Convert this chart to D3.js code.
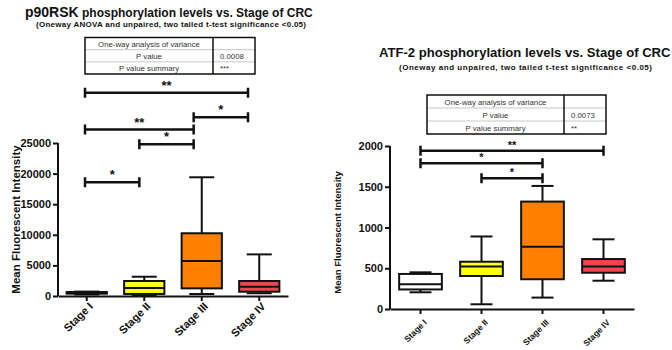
<!DOCTYPE html>
<html>
<head>
<meta charset="utf-8">
<script src="https://cdn.jsdelivr.net/npm/d3@7"></script>
<style>
body { margin: 0; background: #fff; }
svg { display: block; font-family: "Liberation Sans", Arial, sans-serif; }
</style>
</head>
<body>
<svg width="672" height="350"></svg>
<script>
// categories shared by both panels
var stages = ["Stage I", "Stage II", "Stage III", "Stage IV"];
var boxColors = ["#ffffff", "#ffff1a", "#ff8000", "#ee4650"];

// p90RSK box values (min, q1, median, q3, max)
var p90Min = [250, 60, 330, 450];
var p90Q1 = [380, 330, 1250, 700];
var p90Med = [520, 1300, 5700, 1530];
var p90Q3 = [650, 2450, 10250, 2450];
var p90Max = [720, 3150, 19400, 6800];
var p90Ticks = [0, 5000, 10000, 15000, 20000, 25000];
// significance brackets: from, to, height (data units), label
var p90BrFrom = [0, 1, 0, 2, 0];
var p90BrTo = [1, 2, 2, 3, 3];
var p90BrY = [18600, 24800, 27200, 29200, 33200];
var p90BrLab = ["*", "*", "**", "*", "**"];
var p90Table = ["", "0.0008", "***"];

// ATF-2 box values
var atfMin = [205, 58, 140, 347];
var atfQ1 = [240, 405, 365, 445];
var atfMed = [305, 520, 765, 520];
var atfQ3 = [430, 580, 1318, 613];
var atfMax = [450, 890, 1510, 855];
var atfTicks = [0, 500, 1000, 1500, 2000];
var atfBrFrom = [1, 0, 0];
var atfBrTo = [2, 2, 3];
var atfBrY = [1604, 1788, 1942];
var atfBrLab = ["*", "*", "**"];
var atfTable = ["", "0.0073", "**"];

var tableRows = ["One-way analysis of variance", "P value", "P value summary"];

var svg = d3.select("svg");

function drawPanel(o) {
  var g = svg.append("g");
  var x = d3.scaleBand().domain(stages).range([o.x0, o.x1]).padding(0);
  var y = d3.scaleLinear().domain([0, o.ymax]).range([o.yb, o.yt]);
  var xb = o.brScale || function(s) { return x(s) + x.bandwidth() / 2; };
  var bw = x.bandwidth() * 0.7;

  var rows = stages.map(function(s, i) {
    return {s: s, min: o.mn[i], q1: o.q1[i], med: o.md[i], q3: o.q3[i], max: o.mx[i], c: boxColors[i]};
  });
  var bx = g.selectAll(".bx").data(rows).enter().append("g")
    .attr("transform", function(d) { return "translate(" + (x(d.s) + x.bandwidth() / 2) + ",0)"; });

  // whiskers
  bx.append("line").attr("x1", 0).attr("x2", 0)
    .attr("y1", d => y(d.max)).attr("y2", d => y(d.q3))
    .attr("stroke", "#111").attr("stroke-width", 2);
  bx.append("line").attr("x1", 0).attr("x2", 0)
    .attr("y1", d => y(d.q1)).attr("y2", d => y(d.min))
    .attr("stroke", "#111").attr("stroke-width", 2);
  ["max", "min"].forEach(function(k) {
    bx.append("line").attr("x1", -o.cap / 2).attr("x2", o.cap / 2)
      .attr("y1", d => y(d[k])).attr("y2", d => y(d[k]))
      .attr("stroke", "#111").attr("stroke-width", 2);
  });
  bx.append("rect")
    .attr("x", -bw / 2).attr("width", bw)
    .attr("y", d => y(d.q3)).attr("height", d => y(d.q1) - y(d.q3))
    .attr("fill", d => d.c).attr("stroke", "#111").attr("stroke-width", 2);
  bx.append("line").attr("x1", -bw / 2).attr("x2", bw / 2)
    .attr("y1", d => y(d.med)).attr("y2", d => y(d.med))
    .attr("stroke", "#111").attr("stroke-width", 2);

  // axes
  var ya = g.append("g").attr("transform", "translate(" + o.x0 + ",0)")
    .call(d3.axisLeft(y).tickValues(o.ticks).tickSize(5).tickPadding(2).tickFormat(d3.format("d")));
  ya.select(".domain").attr("d", "M0," + o.yt + "V" + o.yb);
  var xa = g.append("g").attr("transform", "translate(0," + o.yb + ")")
    .call(d3.axisBottom(x).tickSize(5).tickSizeOuter(0));
  [ya, xa].forEach(function(a) {
    a.selectAll("path,line").attr("stroke", "#111").attr("stroke-width", 2);
  });
  ya.selectAll("text").attr("font-size", 11).attr("font-weight", "bold").attr("fill", "#111")
    .attr("font-family", "Liberation Sans, Arial, sans-serif");
  xa.selectAll("text").attr("font-size", o.xfs).attr("font-weight", "bold").attr("fill", "#111")
    .attr("font-family", "Liberation Sans, Arial, sans-serif")
    .attr("text-anchor", "end").attr("dy", 0).attr("y", 0)
    .attr("transform", "translate(" + o.xlx + "," + o.xly + ") rotate(-45)");

  g.append("text")
    .attr("transform", "translate(" + o.ylx + "," + ((o.yt + o.yb) / 2 + o.ylDy) + ") rotate(-90)")
    .attr("text-anchor", "middle").attr("font-size", o.ylfs).attr("font-weight", "bold")
    .attr("fill", "#111").text("Mean Fluorescent Intensity");

  // significance brackets
  var br = o.bf.map(function(f, i) { return {a: stages[f], b: stages[o.bt[i]], v: o.by[i], t: o.bl[i]}; });
  var bg = g.selectAll(".br").data(br).enter().append("g");
  bg.append("path")
    .attr("d", function(d) {
      var a = xb(d.a), b = xb(d.b), yy = y(d.v);
      return "M" + a + "," + (yy - 5) + "V" + (yy + 5) + "M" + a + "," + yy + "H" + b +
        "M" + b + "," + (yy - 5) + "V" + (yy + 5);
    })
    .attr("fill", "none").attr("stroke", "#111").attr("stroke-width", 2.5);
  bg.append("text")
    .attr("x", d => (xb(d.a) + xb(d.b)) / 2).attr("y", d => y(d.v) - o.starGap)
    .attr("text-anchor", "middle").attr("font-size", o.starFs).attr("font-weight", "bold")
    .attr("fill", "#111").text(d => d.t);

  // anova table
  var t = o.tab;
  var tg = g.append("g");
  var rh = (t.y1 - t.y0) / 3;
  tableRows.forEach(function(r, i) {
    if (i > 0) tg.append("line").attr("x1", t.x0).attr("x2", t.x1)
      .attr("y1", t.y0 + rh * i).attr("y2", t.y0 + rh * i)
      .attr("stroke", "#c8c8c8").attr("stroke-width", 1);
    tg.append("text").attr("x", (t.x0 + t.xd) / 2).attr("y", t.y0 + rh * i + rh / 2 + 3)
      .attr("text-anchor", "middle").attr("font-size", 7.8).attr("fill", "#333").text(r);
    tg.append("text").attr("x", t.xd + 7).attr("y", t.y0 + rh * i + rh / 2 + 3)
      .attr("font-size", 7.8).attr("fill", "#333").text(o.tv[i]);
  });
  tg.append("rect").attr("x", t.x0).attr("y", t.y0).attr("width", t.x1 - t.x0).attr("height", t.y1 - t.y0)
    .attr("fill", "none").attr("stroke", "#111").attr("stroke-width", 1.5);
  tg.append("line").attr("x1", t.xd).attr("x2", t.xd).attr("y1", t.y0).attr("y2", t.y1)
    .attr("stroke", "#111").attr("stroke-width", 1.5);
}

// left panel: p90RSK
drawPanel({
  x0: 58, x1: 288, yb: 296, yt: 143, ymax: 25000, ticks: p90Ticks,
  mn: p90Min, q1: p90Q1, md: p90Med, q3: p90Q3, mx: p90Max, cap: 25,
  brScale: d3.scalePoint().domain(stages).range([85, 248]),
  bf: p90BrFrom, bt: p90BrTo, by: p90BrY, bl: p90BrLab, starFs: 13, starGap: 3,
  xfs: 11, xlx: 7, xly: 11, ylx: 20, ylDy: 0, ylfs: 11.5,
  tab: {x0: 85, x1: 255, xd: 213, y0: 37.5, y1: 74}, tv: p90Table
});

// right panel: ATF-2
drawPanel({
  x0: 390, x1: 634, yb: 309, yt: 146, ymax: 2000, ticks: atfTicks,
  mn: atfMin, q1: atfQ1, md: atfMed, q3: atfQ3, mx: atfMax, cap: 22,
  bf: atfBrFrom, bt: atfBrTo, by: atfBrY, bl: atfBrLab, starFs: 11, starGap: 2,
  xfs: 8.5, xlx: 7, xly: 14, ylx: 341, ylDy: 5, ylfs: 9.5,
  tab: {x0: 427, x1: 606, xd: 564, y0: 95, y1: 134}, tv: atfTable
});

// titles
var t1 = svg.append("text").attr("x", 25).attr("y", 17).attr("font-weight", "bold").attr("fill", "#111");
t1.append("tspan").attr("font-size", 14).text("p90RSK");
t1.append("tspan").attr("font-size", 12).text(" phosphorylation levels vs. Stage of CRC");
svg.append("text").attr("x", 36).attr("y", 27)
  .attr("font-size", 8).attr("font-weight", "bold").attr("fill", "#111")
  .attr("textLength", 270).attr("lengthAdjust", "spacing")
  .text("(Oneway ANOVA and unpaired, two tailed t-test significance <0.05)");
svg.append("text").attr("x", 379).attr("y", 57).attr("font-size", 13.1)
  .attr("font-weight", "bold").attr("fill", "#111")
  .text("ATF-2 phosphorylation levels vs. Stage of CRC");
svg.append("text").attr("x", 399).attr("y", 69.5)
  .attr("font-size", 8).attr("font-weight", "bold").attr("fill", "#111")
  .attr("textLength", 253).attr("lengthAdjust", "spacing")
  .text("(Oneway and unpaired, two tailed t-test significance <0.05)");
</script>
</body>
</html>
